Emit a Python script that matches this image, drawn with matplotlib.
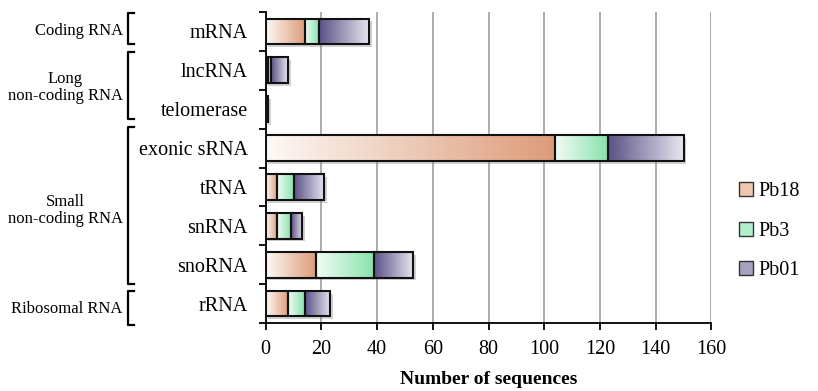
import numpy as np
import matplotlib

matplotlib.use("Agg")
import matplotlib.pyplot as plt
import matplotlib.patheffects as pe
from matplotlib.colors import LinearSegmentedColormap
from matplotlib.patches import Patch
from matplotlib.transforms import blended_transform_factory

# data
categories = ["mRNA", "lncRNA", "telomerase", "exonic sRNA", "tRNA", "snRNA", "snoRNA", "rRNA"]
pb18 = [14, 1, 0, 104, 4, 4, 18, 8]
pb3 = [5, 1, 0, 19, 6, 5, 21, 6]
pb01 = [18, 6, 1, 27, 11, 4, 14, 9]
series_names = ["Pb18", "Pb3", "Pb01"]
group_names = ["Coding RNA", "Long\nnon-coding RNA", "Small\nnon-coding RNA", "Ribosomal RNA"]
x_ticks = [0, 20, 40, 60, 80, 100, 120, 140, 160]

plt.rcParams["font.family"] = ["Liberation Serif", "DejaVu Serif"]

cmaps = [
    LinearSegmentedColormap.from_list("pb18", ["#fdf9f6", "#dc9b78"]),
    LinearSegmentedColormap.from_list("pb3", ["#f2fcf6", "#88e2ad"]),
    LinearSegmentedColormap.from_list("pb01", ["#5b5186", "#e9e7f0"]),
]
legend_colors = ["#efc8b2", "#b4efcb", "#a7a2c2"]

fig = plt.figure(figsize=(8.18, 3.91), dpi=100)
ax = fig.add_axes([0.3248, 0.1739, 0.545, 0.7954])

grad = np.linspace(0, 1, 256).reshape(1, -1)
h = 0.66
edge = "#111111"
for i, cat in enumerate(categories):
    vals = [pb18[i], pb3[i], pb01[i]]
    total = sum(vals)
    # white base with a soft drop shadow
    ax.barh(i, total, height=h, color="white", zorder=2,
            path_effects=[pe.SimplePatchShadow(offset=(2, -2), shadow_rgbFace="0.5", alpha=0.35),
                          pe.Normal()])
    left = 0
    for v, cm in zip(vals, cmaps):
        if v <= 0:
            continue
        ax.imshow(grad, cmap=cm, extent=(left, left + v, i + h / 2, i - h / 2),
                  aspect="auto", interpolation="bilinear", zorder=3)
        ax.barh(i, v, left=left, height=h, fill=False, edgecolor=edge, linewidth=1.5, zorder=4)
        left += v

ax.set_xlim(0, 160)
ax.set_ylim(len(categories) - 0.5, -0.5)

ax.set_xticks(x_ticks)
ax.set_yticks(range(len(categories)))
ax.set_yticklabels(categories)
ax.set_yticks(np.arange(-0.5, len(categories), 1), minor=True)
ax.tick_params(axis="y", which="major", length=0, pad=13, labelsize=14.5)
ax.tick_params(axis="y", which="minor", length=5, width=1.3, direction="out")
ax.tick_params(axis="x", which="major", length=5, width=1.3, labelsize=14.5, pad=7)

ax.xaxis.grid(True, color="#a6a6a6", linewidth=1.3)
ax.set_axisbelow(True)
for side in ["top", "right"]:
    ax.spines[side].set_visible(False)
for side in ["left", "bottom"]:
    ax.spines[side].set_linewidth(1.3)

ax.set_xlabel("Number of sequences", fontsize=14, fontweight="bold", labelpad=9)

# group brackets on the left
trans = blended_transform_factory(fig.transFigure, ax.transData)
bracket_spans = [(-0.47, 0.32), (0.53, 2.25), (2.46, 6.49), (6.67, 7.55)]
label_y = [-0.01, 1.44, 4.6, 7.13]
xv, xs = 0.1565, 0.1638
for (y0, y1), name, ly in zip(bracket_spans, group_names, label_y):
    ax.plot([xs, xv, xv, xs], [y0, y0, y1, y1], color="black", linewidth=1.6,
            transform=trans, clip_on=False)
    ax.text(0.150, ly, name, transform=trans, ha="right", va="center",
            multialignment="center", fontsize=12, linespacing=1.05)

handles = [Patch(facecolor=c, edgecolor="#333333", linewidth=1.0) for c in legend_colors]
fig.legend(handles, series_names, loc="center left", bbox_to_anchor=(0.903, 0.409),
           frameon=False, fontsize=14.5, handlelength=0.7, handleheight=0.7,
           handletextpad=0.3, labelspacing=1.0, borderpad=0, borderaxespad=0)

fig.savefig("out.png", dpi=100)
